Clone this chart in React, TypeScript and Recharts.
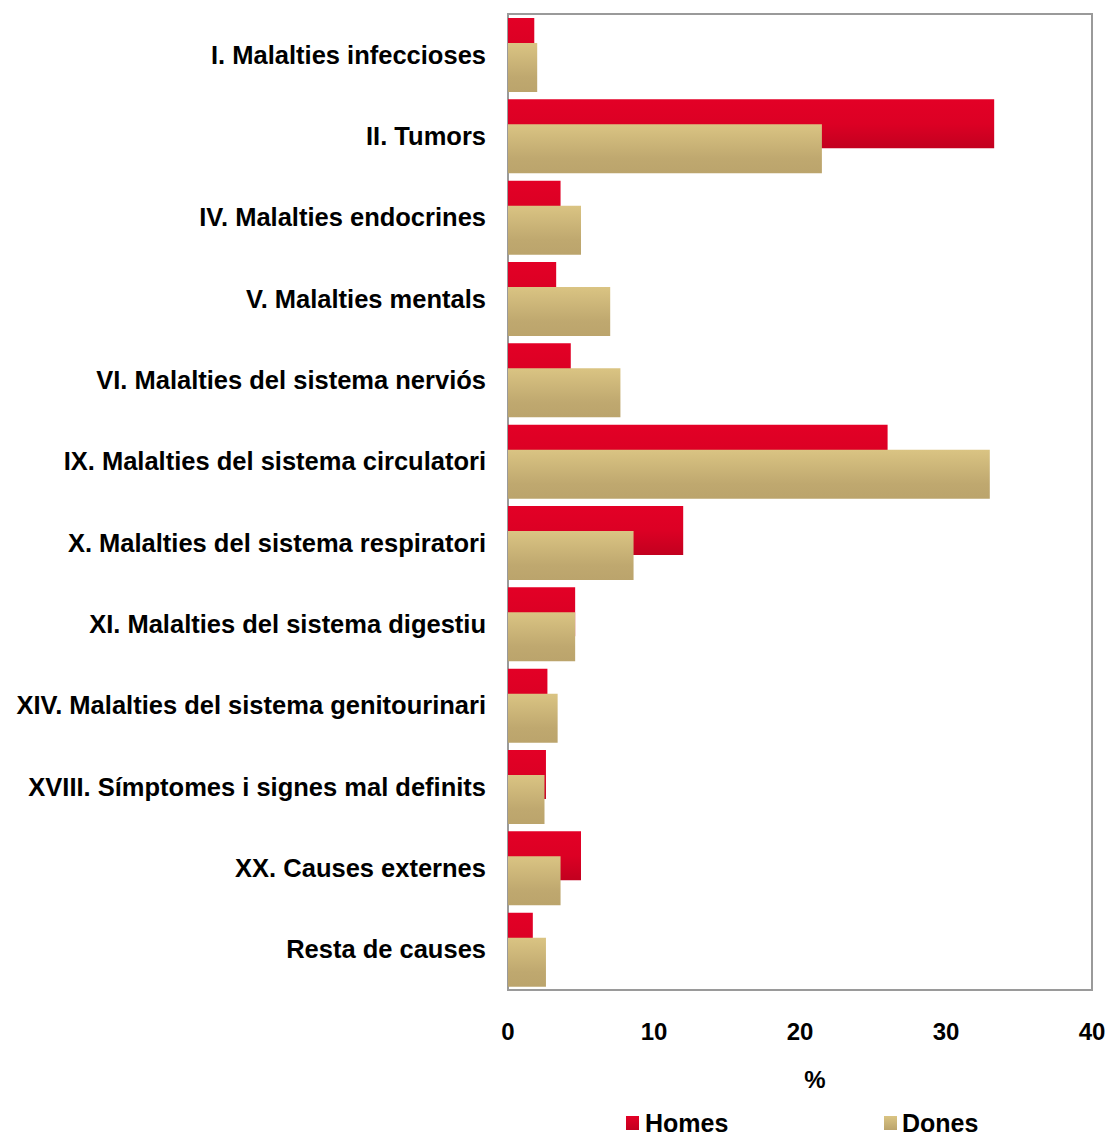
import { BarChart, Bar, XAxis, YAxis, ReferenceArea, Label } from "recharts";

const categories = [
  "I. Malalties infeccioses",
  "II. Tumors",
  "IV. Malalties endocrines",
  "V. Malalties mentals",
  "VI. Malalties del sistema nerviós",
  "IX. Malalties del sistema circulatori",
  "X. Malalties del sistema respiratori",
  "XI. Malalties del sistema digestiu",
  "XIV. Malalties del sistema genitourinari",
  "XVIII. Símptomes i signes mal definits",
  "XX. Causes externes",
  "Resta de causes",
];
const homes = [1.8, 33.3, 3.6, 3.3, 4.3, 26.0, 12.0, 4.6, 2.7, 2.6, 5.0, 1.7];
const dones = [2.0, 21.5, 5.0, 7.0, 7.7, 33.0, 8.6, 4.6, 3.4, 2.5, 3.6, 2.6];
const xTicks = [0, 10, 20, 30, 40];

const data = categories.map((name, i) => ({ name, homes: homes[i], dones: dones[i] }));

const font = "'Liberation Sans', Arial, sans-serif";

function Swatch({ id, from, to }: { id: string; from: string; to: string }) {
  return (
    <svg width={13} height={14} style={{ display: "block" }}>
      <defs>
        <linearGradient id={id} x1="0" y1="0" x2="0" y2="1">
          <stop offset="0%" stopColor={from} />
          <stop offset="100%" stopColor={to} />
        </linearGradient>
      </defs>
      <rect width={13} height={14} fill={`url(#${id})`} />
    </svg>
  );
}

export default function App() {
  return (
    <div
      style={{
        position: "absolute",
        top: 0,
        left: 0,
        width: 1110,
        height: 1135,
        overflow: "hidden",
        fontFamily: font,
      }}
    >
      <BarChart
        width={1110}
        height={1135}
        data={data}
        layout="vertical"
        margin={{ top: 14, right: 18, bottom: 0, left: 0 }}
        barSize={49}
        barGap={-24}
      >
        <defs>
          <linearGradient id="gradHomes" x1="0" y1="0" x2="0" y2="1">
            <stop offset="0%" stopColor="#e30026" />
            <stop offset="50%" stopColor="#dc0024" />
            <stop offset="100%" stopColor="#c2001f" />
          </linearGradient>
          <linearGradient id="gradDones" x1="0" y1="0" x2="0" y2="1">
            <stop offset="0%" stopColor="#dac483" />
            <stop offset="70%" stopColor="#bfa86f" />
            <stop offset="100%" stopColor="#bba46c" />
          </linearGradient>
        </defs>
        <XAxis
          type="number"
          domain={[0, 40]}
          ticks={xTicks}
          height={145}
          axisLine={false}
          tickLine={false}
          tickSize={0}
          tickMargin={33}
          tick={{ fontSize: 24, fontWeight: "bold", fill: "#000", fontFamily: font }}
        >
          <Label
            value="%"
            position="insideBottom"
            offset={47}
            dx={15}
            style={{ fontSize: 24, fontWeight: "bold", fill: "#000", fontFamily: font }}
          />
        </XAxis>
        <YAxis
          type="category"
          dataKey="name"
          width={508}
          interval={0}
          axisLine={false}
          tickLine={false}
          tickSize={0}
          tickMargin={22}
          tick={{ fontSize: 25.5, fontWeight: "bold", fill: "#000", fontFamily: font }}
        />
        <Bar dataKey="homes" name="Homes" fill="url(#gradHomes)" isAnimationActive={false} />
        <Bar dataKey="dones" name="Dones" fill="url(#gradDones)" isAnimationActive={false} />
        <ReferenceArea x1={0} x2={40} fill="none" stroke="#9a9a9a" strokeWidth={2} ifOverflow="visible" />
      </BarChart>
      <div
        style={{
          position: "absolute",
          top: 1108,
          left: 626,
          height: 30,
          display: "flex",
          alignItems: "center",
          fontSize: 25,
          fontWeight: "bold",
          color: "#000",
          whiteSpace: "nowrap",
        }}
      >
        <Swatch id="lgHomes" from="#e30026" to="#c2001f" />
        <span style={{ marginLeft: 6, width: 239 }}>Homes</span>
        <Swatch id="lgDones" from="#dac483" to="#bba46c" />
        <span style={{ marginLeft: 5 }}>Dones</span>
      </div>
    </div>
  );
}
